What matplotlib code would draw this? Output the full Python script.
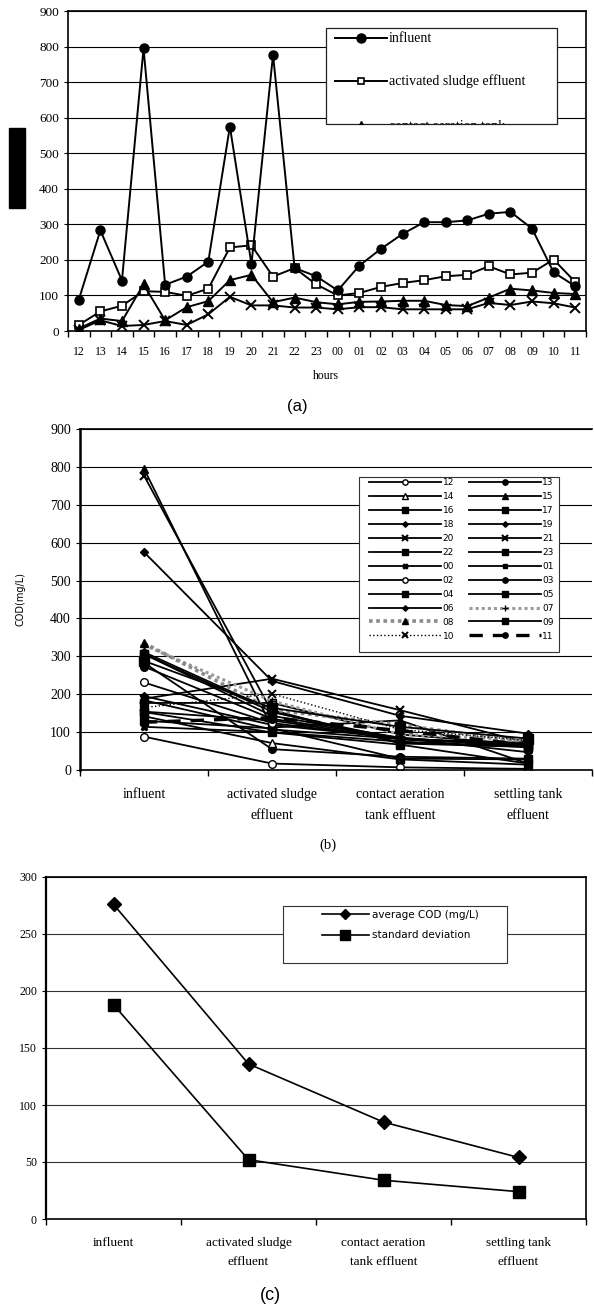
import numpy as np
import matplotlib
matplotlib.use("Agg")
import matplotlib.pyplot as plt
from matplotlib import font_manager
from matplotlib.lines import Line2D
from matplotlib.patches import Rectangle
from matplotlib.transforms import Bbox, TransformedBbox

# hourly COD (mg/L)
hours = ['12', '13', '14', '15', '16', '17', '18', '19', '20', '21', '22', '23',
         '00', '01', '02', '03', '04', '05', '06', '07', '08', '09', '10', '11']
influent = [88, 283, 142, 795, 130, 153, 195, 575, 188, 777, 177, 154,
            114, 184, 231, 273, 306, 306, 311, 330, 335, 288, 165, 126]
sludge_eff = [17, 55, 71, 112, 110, 99, 119, 235, 241, 153, 177, 131,
              100, 107, 124, 135, 143, 154, 158, 182, 159, 164, 201, 138]
aeration_eff = [7, 35, 28, 131, 30, 67, 84, 143, 158, 81, 94, 81,
                75, 82, 83, 85, 85, 73, 70, 94, 119, 114, 107, 104]
settling_eff = [3, 30, 14, 17, 28, 17, 47, 96, 72, 72, 66, 66,
                61, 67, 67, 61, 61, 61, 61, 79, 73, 83, 78, 66]

# treatment stages, panel (b) and (c)
stages = ['influent', 'activated sludge\neffluent',
          'contact aeration\ntank effluent', 'settling tank\neffluent']
avg_cod = [276, 136, 85, 54]
std_cod = [188, 52, 34, 24]

W, H = 594, 1310
SERIF = ['Liberation Serif', 'DejaVu Serif']
SANS = ['Liberation Sans', 'DejaVu Sans']
names = {f.name for f in font_manager.fontManager.ttflist}
NARROW = ['Liberation Sans Narrow'] if 'Liberation Sans Narrow' in names else ['DejaVu Sans']

plt.rcParams['font.family'] = SERIF
plt.rcParams['axes.linewidth'] = 1.2


def box(l, t, r, b):
    return [l / W, 1 - b / H, (r - l) / W, (b - t) / H]


def cat_axis(ax, labels, size):
    n = len(labels)
    ax.set_xlim(-0.5, n - 0.5)
    ax.set_xticks(np.arange(n + 1) - 0.5)
    ax.set_xticklabels([])
    ax.set_xticks(np.arange(n), minor=True)
    ax.set_xticklabels(labels, minor=True, fontsize=size, linespacing=1.8)
    ax.tick_params(axis='x', which='minor', length=0)
    ax.tick_params(axis='x', which='major', length=4, width=1, direction='out')


fig = plt.figure(figsize=(W / 100, H / 100), dpi=100)

# ---------------- (a) ----------------
ax_a = fig.add_axes(box(68, 11, 586, 331))
x = np.arange(len(hours))
ax_a.plot(x, influent, color='k', lw=1.4, marker='o', ms=6.5, zorder=4)
ax_a.plot(x, sludge_eff, color='k', lw=1.4, marker='s', ms=6, mfc='white', mew=1.2, zorder=3)
ax_a.plot(x, aeration_eff, color='k', lw=1.4, marker='^', ms=6.5, zorder=3)
ax_a.plot(x, settling_eff, color='k', lw=1.4, marker='x', ms=6.5, mew=1.4, zorder=3)
ax_a.set_ylim(0, 900)
ax_a.set_yticks(range(0, 901, 100))
ax_a.tick_params(axis='y', labelsize=9.5, length=3)
cat_axis(ax_a, hours, 8.5)
ax_a.tick_params(axis='x', which='minor', pad=11)
ax_a.yaxis.grid(True, color='k', lw=0.8)
ax_a.set_axisbelow(True)
ax_a.set_xlabel('hours', fontsize=8.5)
ax_a.xaxis.set_label_coords((326 - 68) / 518, -(370 - 331) / 320)


# legend of (a), last entry cut by its frame
def fa(px, py):
    return ((px - 68) / 518, 1 - (py - 11) / 320)


bx0, by0 = fa(326, 124)
bx1, by1 = fa(557, 28)
ax_a.add_patch(Rectangle((bx0, by0), bx1 - bx0, by1 - by0, transform=ax_a.transAxes,
                         facecolor='white', edgecolor='#222222', lw=0.9, zorder=6))
clip = TransformedBbox(Bbox.from_extents(bx0, by0, bx1, by1), ax_a.transAxes)
entries = [('influent', dict(marker='o', ms=6.5), 38),
           ('activated sludge effluent', dict(marker='s', ms=5, mfc='white', mew=1.2), 81),
           ('contact aeration tank', dict(marker='^', ms=6.5), 126)]
for lab, mk, yy in entries:
    l0, ly = fa(335, yy)
    l1, _ = fa(387, yy)
    ln = Line2D([l0, (l0 + l1) / 2, l1], [ly] * 3, transform=ax_a.transAxes, color='k',
                lw=1.4, markevery=[1], zorder=7, **mk)
    ax_a.add_line(ln)
    ln.set_clip_path(None)
    ln.set_clip_box(clip)
    tx, _ = fa(389, yy)
    t = ax_a.text(tx, ly, lab, transform=ax_a.transAxes, fontsize=10, va='center',
                  ha='left', zorder=7)
    t.set_clip_box(clip)
    t.set_clip_on(True)

fig.add_artist(Rectangle((9 / W, 1 - 208 / H), 16 / W, 80 / H,
                         transform=fig.transFigure, color='black'))
fig.text(297 / W, 1 - 407 / H, '(a)', family=SANS, fontsize=12, ha='center', va='center')

# ---------------- (b) ----------------
ax_b = fig.add_axes(box(80, 429, 592, 770))
hour_styles = {
    '12': dict(marker='o', mfc='white'), '13': dict(marker='o'),
    '14': dict(marker='^', mfc='white'), '15': dict(marker='^'),
    '16': dict(marker='s'), '17': dict(marker='s'),
    '18': dict(marker='D', ms=4), '19': dict(marker='D', ms=4),
    '20': dict(marker='x', mew=1.5), '21': dict(marker='x', mew=1.5),
    '22': dict(marker='s', ms=6), '23': dict(marker='s', ms=6),
    '00': dict(marker='X', ms=5), '01': dict(marker='s', ms=4.5),
    '02': dict(marker='o', mfc='white'), '03': dict(marker='o'),
    '04': dict(marker='s'), '05': dict(marker='s'),
    '06': dict(marker='D', ms=4),
    '07': dict(marker='+', ls=(0, (1, 1)), color='#9a9a9a', lw=2.2, mec='k'),
    '08': dict(marker='^', ls=(0, (1, 1)), color='#8a8a8a', lw=2.6, mec='k', mfc='k'),
    '09': dict(marker='s', ms=7),
    '10': dict(marker='x', ls=':', lw=1.0, mew=1.4),
    '11': dict(marker='o', ls=(0, (4, 3)), lw=2.4),
}
handles = {}
for i, h in enumerate(hours):
    st = dict(color='k', lw=1.3, ms=5.5, ls='-')
    st.update(hour_styles[h])
    vals = [influent[i], sludge_eff[i], aeration_eff[i], settling_eff[i]]
    handles[h], = ax_b.plot(range(len(stages)), vals, label=h, **st)
ax_b.set_ylim(0, 900)
ax_b.set_yticks(range(0, 901, 100))
ax_b.tick_params(axis='y', labelsize=10, length=3)
cat_axis(ax_b, stages, 10)
ax_b.tick_params(axis='x', which='minor', pad=13)
ax_b.yaxis.grid(True, color='k', lw=0.8)
ax_b.set_axisbelow(True)
ax_b.spines['right'].set_visible(False)
ax_b.spines['left'].set_linewidth(1.8)
ax_b.set_ylabel('COD(mg/L)', family=NARROW, fontsize=7)
ax_b.yaxis.set_label_coords((25 - 80) / 512, 0.5)

order = hours[0::2] + hours[1::2]
ax_b.add_patch(Rectangle((359 / W, 1 - 652 / H), 200 / W, 175 / H, transform=fig.transFigure,
                         facecolor='white', edgecolor='#333333', lw=0.8, zorder=4.5,
                         clip_on=False))
ax_b.legend([handles[h] for h in order], order, ncol=2, loc='upper left',
            bbox_to_anchor=(369 / W, 1 - 478 / H), bbox_transform=fig.transFigure,
            frameon=False, borderpad=0, borderaxespad=0,
            prop=dict(family=NARROW, size=6.5), handlelength=8, handletextpad=0.15,
            columnspacing=1.6, labelspacing=0.55, markerscale=0.7)
fig.text(328 / W, 1 - 845 / H, '(b)', fontsize=10.5, ha='center', va='center')

# ---------------- (c) ----------------
ax_c = fig.add_axes(box(46, 877, 586, 1219))
ax_c.plot(range(len(stages)), avg_cod, color='k', lw=1.2, marker='D', ms=7,
          label='average COD (mg/L)')
ax_c.plot(range(len(stages)), std_cod, color='k', lw=1.2, marker='s', ms=9,
          label='standard deviation')
ax_c.set_ylim(0, 300)
ax_c.set_yticks(range(0, 301, 50))
ax_c.tick_params(axis='y', labelsize=8.5, length=3)
cat_axis(ax_c, stages, 9.5)
ax_c.tick_params(axis='x', which='minor', pad=13)
ax_c.yaxis.grid(True, color='#333333', lw=0.8)
ax_c.set_axisbelow(True)
ax_c.spines['left'].set_linewidth(1.6)

ax_c.add_patch(Rectangle((283 / W, 1 - 963 / H), 224 / W, 57 / H, transform=fig.transFigure,
                         facecolor='white', edgecolor='#333333', lw=0.8, zorder=4.5,
                         clip_on=False))
ax_c.legend(loc='upper left', bbox_to_anchor=(322 / W, 1 - 910 / H),
            bbox_transform=fig.transFigure, frameon=False, borderpad=0, borderaxespad=0,
            prop=dict(family=NARROW, size=7.5), handlelength=4.5, handletextpad=0.3,
            labelspacing=1.0, markerscale=0.8)
fig.text(270 / W, 1 - 1295 / H, '(c)', family=SANS, fontsize=13, ha='center', va='center')

fig.savefig('out.png', dpi=100)
